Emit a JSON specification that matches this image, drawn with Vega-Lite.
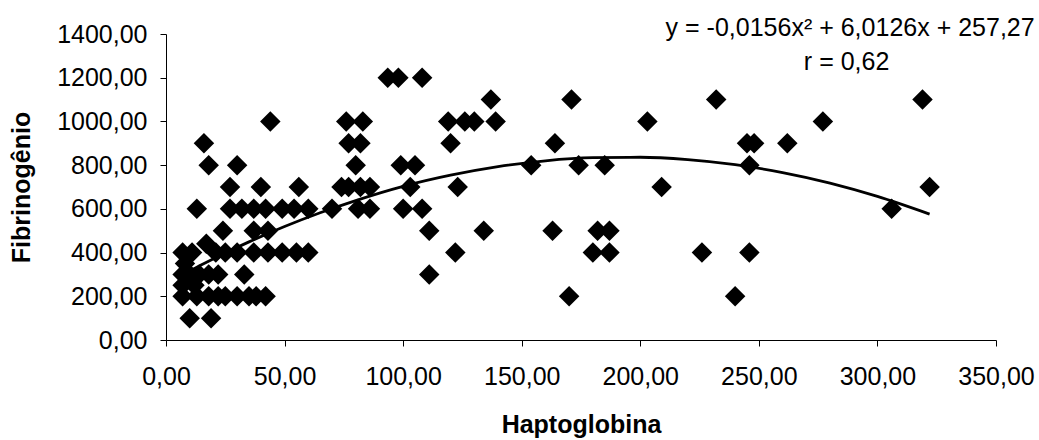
{
  "$schema": "https://vega.github.io/schema/vega-lite/v6.json",
  "autosize": "none",
  "width": 830,
  "height": 306,
  "padding": {"left": 166, "top": 34, "right": 43, "bottom": 100},
  "background": "white",
  "config": {
    "view": {"stroke": null},
    "font": "Liberation Sans",
    "locale": {"number": {"decimal": ",", "thousands": ".", "grouping": [3], "currency": ["", ""]}},
    "axis": {
      "grid": false,
      "domainColor": "#000000",
      "tickColor": "#000000",
      "domainWidth": 1,
      "tickWidth": 1,
      "tickSize": 6,
      "labelFont": "Liberation Sans",
      "labelFontSize": 25,
      "labelColor": "#000000",
      "titleFont": "Liberation Sans",
      "titleFontSize": 25,
      "titleFontWeight": "bold",
      "titleColor": "#000000"
    }
  },
  "datasets": {
    "pts": [
      {"h": 93.5, "f": 1200}, {"h": 98, "f": 1200}, {"h": 108, "f": 1200},
      {"h": 137, "f": 1100}, {"h": 171, "f": 1100}, {"h": 232, "f": 1100}, {"h": 319, "f": 1100},
      {"h": 44, "f": 1000}, {"h": 76, "f": 1000}, {"h": 83, "f": 1000}, {"h": 119, "f": 1000}, {"h": 126, "f": 1000}, {"h": 130, "f": 1000}, {"h": 139, "f": 1000}, {"h": 203, "f": 1000}, {"h": 277, "f": 1000},
      {"h": 16, "f": 900}, {"h": 77, "f": 900}, {"h": 82, "f": 900}, {"h": 120, "f": 900}, {"h": 164, "f": 900}, {"h": 245, "f": 900}, {"h": 248, "f": 900}, {"h": 262, "f": 900},
      {"h": 18, "f": 800}, {"h": 30, "f": 800}, {"h": 80, "f": 800}, {"h": 99, "f": 800}, {"h": 105, "f": 800}, {"h": 154, "f": 800}, {"h": 174, "f": 800}, {"h": 185, "f": 800}, {"h": 246, "f": 800},
      {"h": 27, "f": 700}, {"h": 40, "f": 700}, {"h": 56, "f": 700}, {"h": 74, "f": 700}, {"h": 77, "f": 700}, {"h": 82, "f": 700}, {"h": 86, "f": 700}, {"h": 103, "f": 700}, {"h": 123, "f": 700}, {"h": 209, "f": 700}, {"h": 322, "f": 700},
      {"h": 13, "f": 600}, {"h": 27, "f": 600}, {"h": 32, "f": 600}, {"h": 37, "f": 600}, {"h": 42, "f": 600}, {"h": 49, "f": 600}, {"h": 54, "f": 600}, {"h": 60, "f": 600}, {"h": 70, "f": 600}, {"h": 81, "f": 600}, {"h": 86, "f": 600}, {"h": 100, "f": 600}, {"h": 108, "f": 600}, {"h": 306, "f": 600},
      {"h": 24, "f": 500}, {"h": 37, "f": 500}, {"h": 43, "f": 500}, {"h": 111, "f": 500}, {"h": 134, "f": 500}, {"h": 163, "f": 500}, {"h": 182, "f": 500}, {"h": 187, "f": 500},
      {"h": 17, "f": 440},
      {"h": 7, "f": 400}, {"h": 11, "f": 400}, {"h": 21, "f": 400}, {"h": 25, "f": 400}, {"h": 30, "f": 400}, {"h": 37, "f": 400}, {"h": 43, "f": 400}, {"h": 49, "f": 400}, {"h": 55, "f": 400}, {"h": 60, "f": 400}, {"h": 122, "f": 400}, {"h": 180, "f": 400}, {"h": 187, "f": 400}, {"h": 226, "f": 400}, {"h": 246, "f": 400},
      {"h": 8, "f": 350},
      {"h": 7, "f": 300}, {"h": 10, "f": 300}, {"h": 14, "f": 300}, {"h": 18, "f": 300}, {"h": 22, "f": 300}, {"h": 33, "f": 300}, {"h": 111, "f": 300},
      {"h": 7, "f": 250}, {"h": 12, "f": 250},
      {"h": 7, "f": 200}, {"h": 13, "f": 200}, {"h": 18, "f": 200}, {"h": 22, "f": 200}, {"h": 25, "f": 200}, {"h": 30, "f": 200}, {"h": 35, "f": 200}, {"h": 38, "f": 200}, {"h": 42, "f": 200}, {"h": 170, "f": 200}, {"h": 240, "f": 200},
      {"h": 10, "f": 100}, {"h": 19, "f": 100}
    ],
    "trend": [
      {"h": 7, "f": 299}, {"h": 15, "f": 344}, {"h": 25, "f": 398}, {"h": 35, "f": 449}, {"h": 50, "f": 519},
      {"h": 65, "f": 582}, {"h": 80, "f": 638}, {"h": 100, "f": 703}, {"h": 120, "f": 754}, {"h": 140, "f": 793},
      {"h": 160, "f": 820}, {"h": 180, "f": 834}, {"h": 200, "f": 836}, {"h": 220, "f": 825}, {"h": 240, "f": 802},
      {"h": 260, "f": 766}, {"h": 280, "f": 718}, {"h": 300, "f": 657}, {"h": 322, "f": 576}
    ]
  },
  "layer": [
    {
      "data": {"name": "pts"},
      "mark": {"type": "point", "shape": "diamond", "filled": true, "color": "#000000", "size": 420, "opacity": 1},
      "encoding": {
        "x": {"field": "h", "type": "quantitative", "scale": {"domain": [0, 350], "nice": false, "zero": false},
          "axis": {"title": "Haptoglobina", "values": [0, 50, 100, 150, 200, 250, 300, 350], "format": ".2f", "labelPadding": 18, "titlePadding": 23, "labelFlush": false}},
        "y": {"field": "f", "type": "quantitative", "scale": {"domain": [0, 1400], "nice": false, "zero": false},
          "axis": {"title": "Fibrinogênio", "values": [0, 200, 400, 600, 800, 1000, 1200, 1400], "format": ".2f", "labelPadding": 13, "titlePadding": 22, "labelFlush": false}}
      }
    },
    {
      "data": {"name": "trend"},
      "mark": {"type": "line", "color": "#000000", "strokeWidth": 2.8, "interpolate": "monotone"},
      "encoding": {
        "x": {"field": "h", "type": "quantitative"},
        "y": {"field": "f", "type": "quantitative"}
      }
    },
    {
      "data": {"values": [{"h": 366.3, "f": 1429, "t": "y = -0,0156x² + 6,0126x + 257,27"}]},
      "mark": {"type": "text", "align": "right", "baseline": "middle", "fontSize": 25, "font": "Liberation Sans", "color": "#000000"},
      "encoding": {
        "x": {"field": "h", "type": "quantitative"},
        "y": {"field": "f", "type": "quantitative"},
        "text": {"field": "t"}
      }
    },
    {
      "data": {"values": [{"h": 287, "f": 1273, "t": "r = 0,62"}]},
      "mark": {"type": "text", "align": "center", "baseline": "middle", "fontSize": 25, "font": "Liberation Sans", "color": "#000000"},
      "encoding": {
        "x": {"field": "h", "type": "quantitative"},
        "y": {"field": "f", "type": "quantitative"},
        "text": {"field": "t"}
      }
    }
  ]
}
